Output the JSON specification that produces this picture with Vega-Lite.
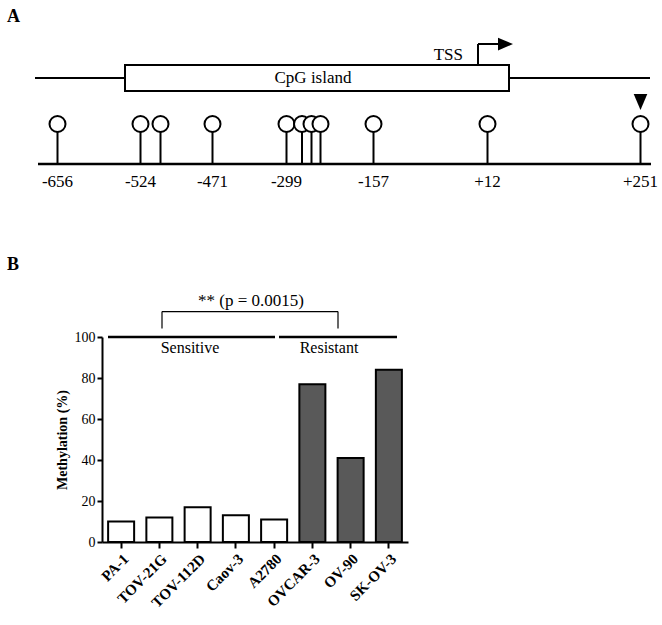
{
  "$schema": "https://vega.github.io/schema/vega-lite/v6.json",
  "autosize": {"type": "none"},
  "padding": {"left": 102, "top": 337, "right": 254, "bottom": 83},
  "width": 306,
  "height": 205,
  "background": "white",
  "config": {
    "view": {"stroke": null},
    "font": "Liberation Serif",
    "text": {"font": "Liberation Serif", "color": "black"}
  },
  "datasets": {
    "methylation": [
      {"cell_line": "PA-1", "methylation": 10, "group": "Sensitive"},
      {"cell_line": "TOV-21G", "methylation": 12, "group": "Sensitive"},
      {"cell_line": "TOV-112D", "methylation": 17, "group": "Sensitive"},
      {"cell_line": "Caov-3", "methylation": 13, "group": "Sensitive"},
      {"cell_line": "A2780", "methylation": 11, "group": "Sensitive"},
      {"cell_line": "OVCAR-3", "methylation": 77, "group": "Resistant"},
      {"cell_line": "OV-90", "methylation": 41, "group": "Resistant"},
      {"cell_line": "SK-OV-3", "methylation": 84, "group": "Resistant"}
    ],
    "groups": [
      {"group": "Sensitive", "start": 108, "end": 275, "center": 190},
      {"group": "Resistant", "start": 279, "end": 397, "center": 329}
    ],
    "comparison": [
      {"from": 162, "to": 338, "center": 251, "label": "**  (p = 0.0015)"}
    ],
    "promoter": [
      {"feature": "promoter", "start": 35, "end": 650}
    ],
    "island": [
      {"feature": "CpG island", "start": 125, "end": 509, "label_pos": 313}
    ],
    "tss": [
      {"feature": "TSS", "pos": 478, "arrow_end": 499, "arrow_head": 505.5, "label_pos": 463}
    ],
    "site_axis": [
      {"start": 38, "end": 651}
    ],
    "sites": [
      {"site": "-656", "pos": 57.5, "labeled": true, "marked": false},
      {"site": "-524", "pos": 140.5, "labeled": true, "marked": false},
      {"site": "-505", "pos": 160.5, "labeled": false, "marked": false},
      {"site": "-471", "pos": 212.5, "labeled": true, "marked": false},
      {"site": "-299", "pos": 286.5, "labeled": true, "marked": false},
      {"site": "-280", "pos": 302, "labeled": false, "marked": false},
      {"site": "-270", "pos": 311.5, "labeled": false, "marked": false},
      {"site": "-260", "pos": 320.5, "labeled": false, "marked": false},
      {"site": "-157", "pos": 373.5, "labeled": true, "marked": false},
      {"site": "+12", "pos": 487.5, "labeled": true, "marked": false},
      {"site": "+251", "pos": 640.5, "labeled": true, "marked": true}
    ],
    "panels": [
      {"panel": "A", "x": 7, "y": 17},
      {"panel": "B", "x": 7, "y": 265}
    ]
  },
  "layer": [
    {
      "data": {"name": "methylation"},
      "mark": {"type": "bar", "stroke": "black", "strokeWidth": 2},
      "encoding": {
        "x": {
          "field": "cell_line", "type": "nominal", "sort": null,
          "scale": {"paddingInner": 0.32, "paddingOuter": 0.16},
          "axis": {
            "title": null, "labelAngle": -45,
            "labelFont": "Liberation Serif", "labelFontWeight": "bold", "labelFontSize": 15, "labelColor": "black",
            "domainColor": "black", "domainWidth": 2, "tickColor": "black", "tickWidth": 2, "tickSize": 6, "labelPadding": 3
          }
        },
        "y": {
          "field": "methylation", "type": "quantitative",
          "scale": {"domain": [0, 100], "nice": false},
          "axis": {
            "title": "Methylation (%)", "values": [0, 20, 40, 60, 80, 100], "grid": false,
            "labelFont": "Liberation Serif", "labelFontSize": 14, "labelColor": "black", "labelPadding": 2,
            "domainColor": "black", "domainWidth": 2, "tickColor": "black", "tickWidth": 2, "tickSize": 5,
            "titleFont": "Liberation Serif", "titleFontSize": 14, "titleFontWeight": "bold", "titleColor": "black", "titlePadding": 5
          }
        },
        "fill": {
          "field": "group", "type": "nominal",
          "scale": {"domain": ["Sensitive", "Resistant"], "range": ["white", "#595959"]},
          "legend": null
        }
      }
    },
    {
      "layer": [
        {
          "data": {"name": "groups"},
          "mark": {"type": "rule", "strokeWidth": 2.5, "color": "black"},
          "encoding": {
            "x": {"field": "start", "type": "quantitative", "scale": {"domain": [102, 408], "nice": false, "zero": false}, "axis": null},
            "x2": {"field": "end"},
            "y": {"datum": 100, "type": "quantitative", "scale": {"domain": [0, 100], "nice": false}, "axis": null}
          }
        },
        {
          "data": {"name": "groups"},
          "mark": {"type": "text", "fontSize": 16, "align": "center", "baseline": "middle"},
          "encoding": {
            "x": {"field": "center", "type": "quantitative", "scale": {"domain": [102, 408], "nice": false, "zero": false}, "axis": null},
            "y": {"datum": 94.4, "type": "quantitative", "scale": {"domain": [0, 100], "nice": false}, "axis": null},
            "text": {"field": "group"}
          }
        },
        {
          "data": {"name": "comparison"},
          "mark": {"type": "rule", "strokeWidth": 1.2, "color": "black"},
          "encoding": {
            "x": {"field": "from", "type": "quantitative", "scale": {"domain": [102, 408], "nice": false, "zero": false}, "axis": null},
            "x2": {"field": "to"},
            "y": {"datum": 112.4, "type": "quantitative", "scale": {"domain": [0, 100], "nice": false}, "axis": null}
          }
        },
        {
          "data": {"name": "comparison"},
          "mark": {"type": "rule", "strokeWidth": 1.2, "color": "black"},
          "encoding": {
            "x": {"field": "from", "type": "quantitative", "scale": {"domain": [102, 408], "nice": false, "zero": false}, "axis": null},
            "y": {"datum": 112.4, "type": "quantitative", "scale": {"domain": [0, 100], "nice": false}, "axis": null},
            "y2": {"datum": 104.2}
          }
        },
        {
          "data": {"name": "comparison"},
          "mark": {"type": "rule", "strokeWidth": 1.2, "color": "black"},
          "encoding": {
            "x": {"field": "to", "type": "quantitative", "scale": {"domain": [102, 408], "nice": false, "zero": false}, "axis": null},
            "y": {"datum": 112.4, "type": "quantitative", "scale": {"domain": [0, 100], "nice": false}, "axis": null},
            "y2": {"datum": 104.2}
          }
        },
        {
          "data": {"name": "comparison"},
          "mark": {"type": "text", "fontSize": 17, "align": "center", "baseline": "middle"},
          "encoding": {
            "x": {"field": "center", "type": "quantitative", "scale": {"domain": [102, 408], "nice": false, "zero": false}, "axis": null},
            "y": {"datum": 117.4, "type": "quantitative", "scale": {"domain": [0, 100], "nice": false}, "axis": null},
            "text": {"field": "label"}
          }
        }
      ]
    },
    {
      "layer": [
        {
          "data": {"name": "panels"},
          "mark": {"type": "text", "fontSize": 18, "fontWeight": "bold", "align": "left", "baseline": "middle"},
          "encoding": {
            "x": {"field": "x", "type": "quantitative", "scale": {"domain": [102, 408], "nice": false, "zero": false}, "axis": null},
            "y": {"field": "y", "type": "quantitative", "scale": {"domain": [337, 542], "reverse": true, "nice": false, "zero": false}, "axis": null},
            "text": {"field": "panel"}
          }
        },
        {
          "data": {"name": "promoter"},
          "mark": {"type": "rule", "strokeWidth": 2, "color": "black"},
          "encoding": {
            "x": {"field": "start", "type": "quantitative", "scale": {"domain": [102, 408], "nice": false, "zero": false}, "axis": null},
            "x2": {"field": "end"},
            "y": {"datum": 78, "type": "quantitative", "scale": {"domain": [337, 542], "reverse": true, "nice": false, "zero": false}, "axis": null}
          }
        },
        {
          "data": {"name": "island"},
          "mark": {"type": "rect", "fill": "white", "stroke": "black", "strokeWidth": 2},
          "encoding": {
            "x": {"field": "start", "type": "quantitative", "scale": {"domain": [102, 408], "nice": false, "zero": false}, "axis": null},
            "x2": {"field": "end"},
            "y": {"datum": 65, "type": "quantitative", "scale": {"domain": [337, 542], "reverse": true, "nice": false, "zero": false}, "axis": null},
            "y2": {"datum": 91}
          }
        },
        {
          "data": {"name": "island"},
          "mark": {"type": "text", "fontSize": 17, "align": "center", "baseline": "middle"},
          "encoding": {
            "x": {"field": "label_pos", "type": "quantitative", "scale": {"domain": [102, 408], "nice": false, "zero": false}, "axis": null},
            "y": {"datum": 78, "type": "quantitative", "scale": {"domain": [337, 542], "reverse": true, "nice": false, "zero": false}, "axis": null},
            "text": {"field": "feature"}
          }
        },
        {
          "data": {"name": "tss"},
          "mark": {"type": "rule", "strokeWidth": 2, "color": "black"},
          "encoding": {
            "x": {"field": "pos", "type": "quantitative", "scale": {"domain": [102, 408], "nice": false, "zero": false}, "axis": null},
            "y": {"datum": 65, "type": "quantitative", "scale": {"domain": [337, 542], "reverse": true, "nice": false, "zero": false}, "axis": null},
            "y2": {"datum": 44}
          }
        },
        {
          "data": {"name": "tss"},
          "mark": {"type": "rule", "strokeWidth": 2, "color": "black"},
          "encoding": {
            "x": {"field": "pos", "type": "quantitative", "scale": {"domain": [102, 408], "nice": false, "zero": false}, "axis": null},
            "x2": {"field": "arrow_end"},
            "y": {"datum": 44, "type": "quantitative", "scale": {"domain": [337, 542], "reverse": true, "nice": false, "zero": false}, "axis": null}
          }
        },
        {
          "data": {"name": "tss"},
          "mark": {"type": "point", "shape": "M-1,-0.85L1,0L-1,0.85Z", "size": 225, "filled": true, "color": "black", "opacity": 1},
          "encoding": {
            "x": {"field": "arrow_head", "type": "quantitative", "scale": {"domain": [102, 408], "nice": false, "zero": false}, "axis": null},
            "y": {"datum": 44, "type": "quantitative", "scale": {"domain": [337, 542], "reverse": true, "nice": false, "zero": false}, "axis": null}
          }
        },
        {
          "data": {"name": "tss"},
          "mark": {"type": "text", "fontSize": 17, "align": "right", "baseline": "middle"},
          "encoding": {
            "x": {"field": "label_pos", "type": "quantitative", "scale": {"domain": [102, 408], "nice": false, "zero": false}, "axis": null},
            "y": {"datum": 55, "type": "quantitative", "scale": {"domain": [337, 542], "reverse": true, "nice": false, "zero": false}, "axis": null},
            "text": {"field": "feature"}
          }
        },
        {
          "data": {"name": "site_axis"},
          "mark": {"type": "rule", "strokeWidth": 2.5, "color": "black"},
          "encoding": {
            "x": {"field": "start", "type": "quantitative", "scale": {"domain": [102, 408], "nice": false, "zero": false}, "axis": null},
            "x2": {"field": "end"},
            "y": {"datum": 164, "type": "quantitative", "scale": {"domain": [337, 542], "reverse": true, "nice": false, "zero": false}, "axis": null}
          }
        },
        {
          "data": {"name": "sites"},
          "mark": {"type": "rule", "strokeWidth": 2, "color": "black"},
          "encoding": {
            "x": {"field": "pos", "type": "quantitative", "scale": {"domain": [102, 408], "nice": false, "zero": false}, "axis": null},
            "y": {"datum": 124, "type": "quantitative", "scale": {"domain": [337, 542], "reverse": true, "nice": false, "zero": false}, "axis": null},
            "y2": {"datum": 164}
          }
        },
        {
          "data": {"name": "sites"},
          "mark": {"type": "point", "shape": "circle", "size": 256, "filled": false, "fill": "white", "fillOpacity": 1, "stroke": "black", "strokeWidth": 2, "opacity": 1},
          "encoding": {
            "x": {"field": "pos", "type": "quantitative", "scale": {"domain": [102, 408], "nice": false, "zero": false}, "axis": null},
            "y": {"datum": 124, "type": "quantitative", "scale": {"domain": [337, 542], "reverse": true, "nice": false, "zero": false}, "axis": null}
          }
        },
        {
          "data": {"name": "sites"},
          "transform": [{"filter": "datum.labeled"}],
          "mark": {"type": "text", "fontSize": 17, "align": "center", "baseline": "middle"},
          "encoding": {
            "x": {"field": "pos", "type": "quantitative", "scale": {"domain": [102, 408], "nice": false, "zero": false}, "axis": null},
            "y": {"datum": 182, "type": "quantitative", "scale": {"domain": [337, 542], "reverse": true, "nice": false, "zero": false}, "axis": null},
            "text": {"field": "site"}
          }
        },
        {
          "data": {"name": "sites"},
          "transform": [{"filter": "datum.marked"}],
          "mark": {"type": "point", "shape": "M-0.85,-1L0.85,-1L0,1Z", "size": 256, "filled": true, "color": "black", "opacity": 1},
          "encoding": {
            "x": {"field": "pos", "type": "quantitative", "scale": {"domain": [102, 408], "nice": false, "zero": false}, "axis": null},
            "y": {"datum": 102, "type": "quantitative", "scale": {"domain": [337, 542], "reverse": true, "nice": false, "zero": false}, "axis": null}
          }
        }
      ]
    }
  ],
  "resolve": {"scale": {"x": "independent", "y": "independent"}}
}
